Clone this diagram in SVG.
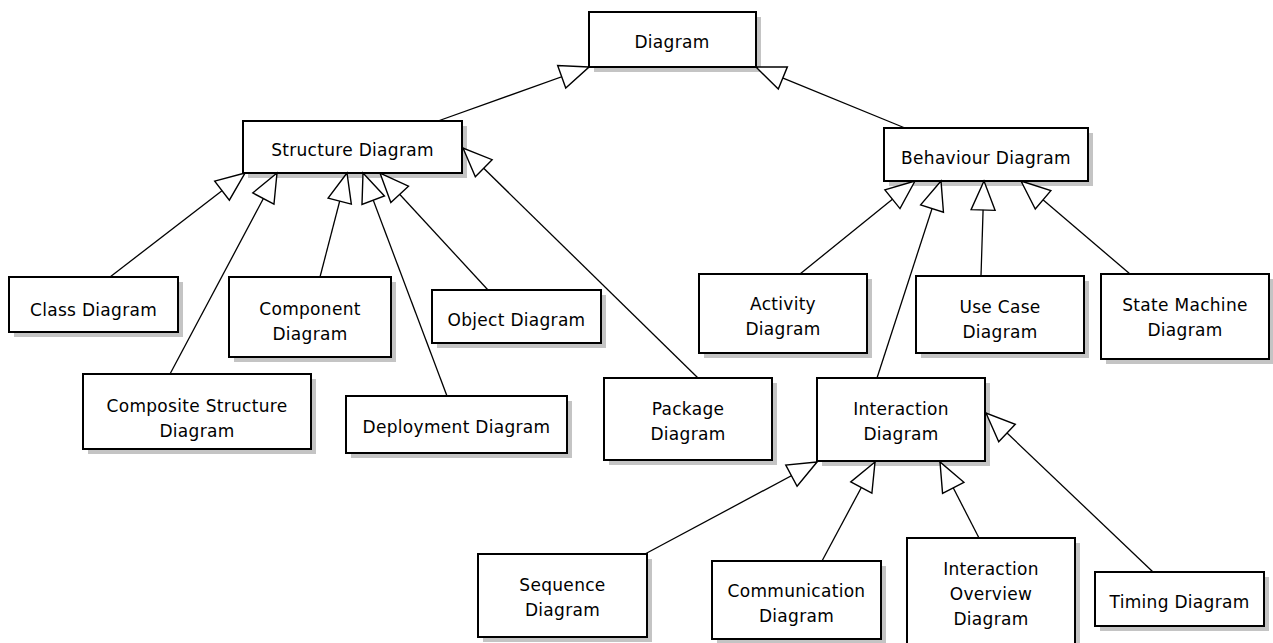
<svg xmlns="http://www.w3.org/2000/svg" width="1273" height="643" viewBox="0 0 1273 643">
  <style>
    .box { fill: #ffffff; stroke: #000000; stroke-width: 2; }
    .shadow { fill: #c4c4c4; stroke: none; }
    .lbl { font-family: "DejaVu Sans", "Liberation Sans", sans-serif; font-size: 17px; letter-spacing: 0.3px; fill: #000000; text-anchor: middle; }
    .conn { stroke: #000000; stroke-width: 1.3; fill: none; marker-end: url(#gen); }
  </style>
  <defs>
    <marker id="gen" markerUnits="userSpaceOnUse" viewBox="-31 -14 33 28" refX="0" refY="0" markerWidth="33" markerHeight="28" orient="auto">
      <path d="M0,0 L-29,-12 L-29,12 Z" fill="#ffffff" stroke="#000000" stroke-width="1.4" stroke-linejoin="miter"/>
    </marker>
  </defs>
  <rect width="1273" height="643" fill="#ffffff"/>

  <g id="diagram">
    <rect class="shadow" x="594" y="17" width="167" height="55"/>
    <rect class="box" x="589" y="12" width="167" height="55"/>
    <text class="lbl" x="672" y="48">Diagram</text>
  </g>
  <g id="structure-diagram">
    <rect class="shadow" x="248" y="126" width="219" height="52"/>
    <rect class="box" x="243" y="121" width="219" height="52"/>
    <text class="lbl" x="352.5" y="156">Structure Diagram</text>
  </g>
  <g id="behaviour-diagram">
    <rect class="shadow" x="889" y="133" width="204" height="53"/>
    <rect class="box" x="884" y="128" width="204" height="53"/>
    <text class="lbl" x="986" y="164">Behaviour Diagram</text>
  </g>
  <g id="class-diagram">
    <rect class="shadow" x="14" y="282" width="169" height="55"/>
    <rect class="box" x="9" y="277" width="169" height="55"/>
    <text class="lbl" x="93.5" y="316">Class Diagram</text>
  </g>
  <g id="component-diagram">
    <rect class="shadow" x="234" y="282" width="162" height="80"/>
    <rect class="box" x="229" y="277" width="162" height="80"/>
    <text class="lbl" x="310" y="315">Component</text>
    <text class="lbl" x="310" y="340">Diagram</text>
  </g>
  <g id="composite-structure-diagram">
    <rect class="shadow" x="88" y="379" width="228" height="75"/>
    <rect class="box" x="83" y="374" width="228" height="75"/>
    <text class="lbl" x="197" y="412">Composite Structure</text>
    <text class="lbl" x="197" y="437">Diagram</text>
  </g>
  <g id="object-diagram">
    <rect class="shadow" x="437" y="295" width="169" height="53"/>
    <rect class="box" x="432" y="290" width="169" height="53"/>
    <text class="lbl" x="516.5" y="326">Object Diagram</text>
  </g>
  <g id="deployment-diagram">
    <rect class="shadow" x="351" y="401" width="221" height="57"/>
    <rect class="box" x="346" y="396" width="221" height="57"/>
    <text class="lbl" x="456.5" y="433">Deployment Diagram</text>
  </g>
  <g id="package-diagram">
    <rect class="shadow" x="609" y="383" width="168" height="82"/>
    <rect class="box" x="604" y="378" width="168" height="82"/>
    <text class="lbl" x="688" y="415">Package</text>
    <text class="lbl" x="688" y="440">Diagram</text>
  </g>
  <g id="interaction-diagram">
    <rect class="shadow" x="822" y="383" width="168" height="83"/>
    <rect class="box" x="817" y="378" width="168" height="83"/>
    <text class="lbl" x="901" y="415">Interaction</text>
    <text class="lbl" x="901" y="440">Diagram</text>
  </g>
  <g id="activity-diagram">
    <rect class="shadow" x="704" y="279" width="168" height="79"/>
    <rect class="box" x="699" y="274" width="168" height="79"/>
    <text class="lbl" x="783" y="310">Activity</text>
    <text class="lbl" x="783" y="335">Diagram</text>
  </g>
  <g id="use-case-diagram">
    <rect class="shadow" x="921" y="281" width="168" height="77"/>
    <rect class="box" x="916" y="276" width="168" height="77"/>
    <text class="lbl" x="1000" y="313">Use Case</text>
    <text class="lbl" x="1000" y="338">Diagram</text>
  </g>
  <g id="state-machine-diagram">
    <rect class="shadow" x="1106" y="279" width="168" height="85"/>
    <rect class="box" x="1101" y="274" width="168" height="85"/>
    <text class="lbl" x="1185" y="311">State Machine</text>
    <text class="lbl" x="1185" y="336">Diagram</text>
  </g>
  <g id="sequence-diagram">
    <rect class="shadow" x="483" y="559" width="169" height="83"/>
    <rect class="box" x="478" y="554" width="169" height="83"/>
    <text class="lbl" x="562.5" y="591">Sequence</text>
    <text class="lbl" x="562.5" y="616">Diagram</text>
  </g>
  <g id="communication-diagram">
    <rect class="shadow" x="717" y="566" width="169" height="78"/>
    <rect class="box" x="712" y="561" width="169" height="78"/>
    <text class="lbl" x="796.5" y="597">Communication</text>
    <text class="lbl" x="796.5" y="622">Diagram</text>
  </g>
  <g id="interaction-overview-diagram">
    <rect class="shadow" x="912" y="543" width="168" height="110"/>
    <rect class="box" x="907" y="538" width="168" height="110"/>
    <text class="lbl" x="991" y="575">Interaction</text>
    <text class="lbl" x="991" y="600">Overview</text>
    <text class="lbl" x="991" y="625">Diagram</text>
  </g>
  <g id="timing-diagram">
    <rect class="shadow" x="1100" y="577" width="169" height="54"/>
    <rect class="box" x="1095" y="572" width="169" height="54"/>
    <text class="lbl" x="1179.5" y="608">Timing Diagram</text>
  </g>

  <g id="connectors">
    <line class="conn" x1="438" y1="121" x2="589" y2="67"/>
    <line class="conn" x1="905" y1="128" x2="756" y2="67"/>
    <line class="conn" x1="110" y1="277" x2="245" y2="173"/>
    <line class="conn" x1="170" y1="374" x2="277" y2="173"/>
    <line class="conn" x1="320" y1="277" x2="347" y2="173"/>
    <line class="conn" x1="447" y1="396" x2="363" y2="173"/>
    <line class="conn" x1="488" y1="290" x2="380" y2="173"/>
    <line class="conn" x1="698" y1="378" x2="463" y2="148"/>
    <line class="conn" x1="800" y1="274" x2="915" y2="181"/>
    <line class="conn" x1="877" y1="378" x2="941" y2="181"/>
    <line class="conn" x1="981" y1="276" x2="984" y2="181"/>
    <line class="conn" x1="1130" y1="274" x2="1021" y2="181"/>
    <line class="conn" x1="645" y1="554" x2="817" y2="462"/>
    <line class="conn" x1="822" y1="561" x2="875" y2="462"/>
    <line class="conn" x1="979" y1="538" x2="940" y2="462"/>
    <line class="conn" x1="1153" y1="572" x2="986" y2="413"/>
  </g>
</svg>
